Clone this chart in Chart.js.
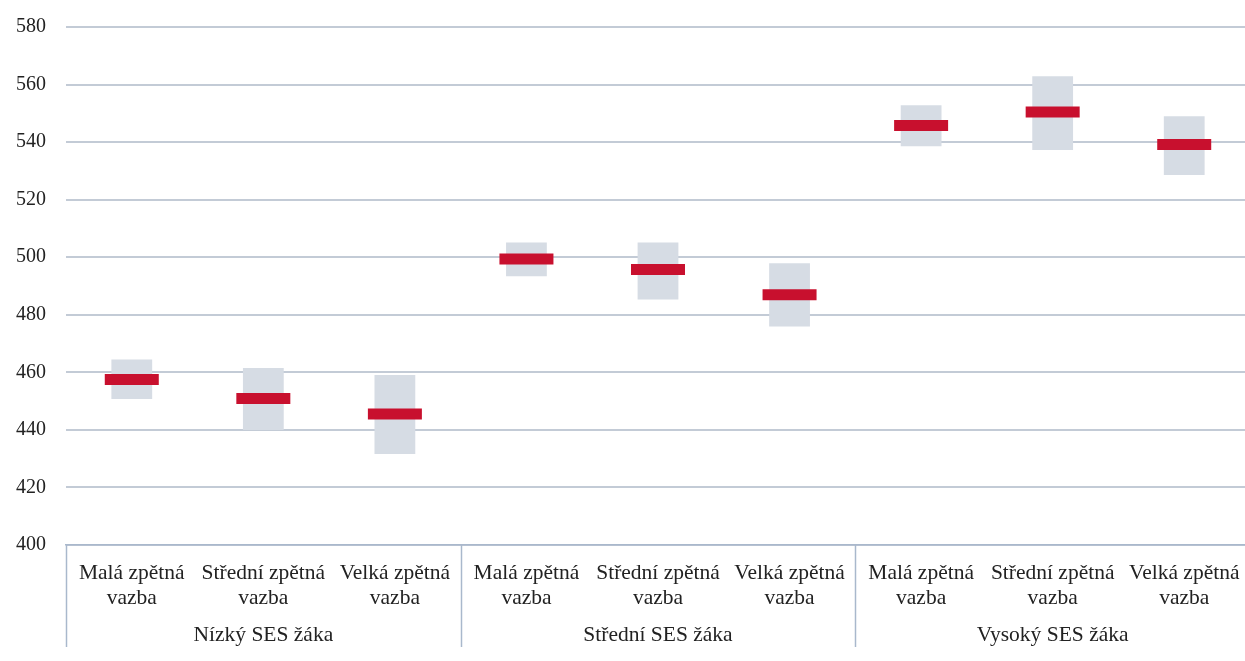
<!DOCTYPE html>
<html>
<head>
<meta charset="utf-8">
<script src="https://cdn.jsdelivr.net/npm/chart.js@4/dist/chart.umd.min.js"></script>
<style>
  html, body { margin: 0; padding: 0; background: #fff; overflow: hidden; }
  canvas { display: block; }
</style>
</head>
<body>
<canvas id="chart" width="1252" height="661"></canvas>
<script>
// categories (feedback level) and groups (student SES)
const feedback = [
    ['Malá zpětná', 'vazba'], ['Střední zpětná', 'vazba'], ['Velká zpětná', 'vazba'],
    ['Malá zpětná', 'vazba'], ['Střední zpětná', 'vazba'], ['Velká zpětná', 'vazba'],
    ['Malá zpětná', 'vazba'], ['Střední zpětná', 'vazba'], ['Velká zpětná', 'vazba']
];
const groups = ['Nízký SES žáka', 'Střední SES žáka', 'Vysoký SES žáka'];

// estimated values
const means = [457.5, 450.9, 445.5, 499.4, 495.7, 487.0, 545.8, 550.5, 539.2];
const lower = [450.7, 440.0, 431.6, 493.4, 485.3, 475.9, 538.6, 537.3, 528.6];
const upper = [464.5, 461.5, 459.1, 505.1, 505.1, 497.9, 552.8, 562.9, 549.0];

const yTicks = [400, 420, 440, 460, 480, 500, 520, 540, 560, 580];

const axisColor = '#A9B8CC';
const gridColor = '#C3CBD6';
const serifFamily = '"Liberation Serif", "Times New Roman", serif';

// vertical separators between the SES groups, from the axis line down
const groupLines = {
    id: 'groupLines',
    afterDraw(chart) {
        const x = chart.scales.x;
        const x2 = chart.scales.x2;
        const step = (x.right - x.left) / feedback.length;
        const ctx = chart.ctx;
        ctx.save();
        ctx.strokeStyle = axisColor;
        ctx.lineWidth = 1.5;
        for (let i = 0; i <= feedback.length; i += 3) {
            const px = Math.round(x.getPixelForValue(i) - step / 2) + 0.5;
            ctx.beginPath();
            ctx.moveTo(px, x.top);
            ctx.lineTo(px, x2.bottom);
            ctx.stroke();
        }
        ctx.restore();
    }
};

new Chart(document.getElementById('chart'), {
    data: {
        labels: feedback,
        datasets: [
            {
                type: 'line',
                label: 'Průměr',
                data: means,
                showLine: false,
                pointStyle: 'line',
                pointRadius: 27,
                pointHoverRadius: 27,
                pointBorderWidth: 11,
                pointHoverBorderWidth: 11,
                borderColor: '#C8102E',
                backgroundColor: '#C8102E',
                order: 1
            },
            {
                type: 'bar',
                label: 'Interval',
                data: lower.map((lo, i) => [lo, upper[i]]),
                backgroundColor: '#D6DCE4',
                borderWidth: 0,
                categoryPercentage: 1,
                barPercentage: 0.31,
                order: 2
            }
        ]
    },
    options: {
        responsive: false,
        animation: false,
        events: [],
        layout: { autoPadding: false, padding: { top: 27, left: 12, right: 2, bottom: 14 } },
        plugins: {
            legend: { display: false },
            tooltip: { enabled: false }
        },
        scales: {
            x: {
                type: 'category',
                offset: true,
                grid: { display: false },
                border: { display: true, color: axisColor, width: 1.5 },
                afterFit: (scale) => { scale.height = 64; },
                ticks: {
                    color: '#222',
                    font: { family: serifFamily, size: 21.5, lineHeight: 1.16 },
                    padding: 8,
                    maxRotation: 0,
                    autoSkip: false
                }
            },
            x2: {
                type: 'category',
                position: 'bottom',
                labels: groups,
                offset: true,
                grid: { display: false },
                border: { display: false },
                afterFit: (scale) => { scale.height = 38; },
                ticks: {
                    color: '#222',
                    font: { family: serifFamily, size: 21.5, lineHeight: 1.16 },
                    padding: 6,
                    maxRotation: 0,
                    autoSkip: false
                }
            },
            y: {
                min: yTicks[0],
                max: yTicks[yTicks.length - 1],
                afterBuildTicks: (scale) => { scale.ticks = yTicks.map(v => ({ value: v })); },
                afterFit: (scale) => {
                    scale.width = 54;
                    scale.paddingTop = 0;
                    scale.paddingBottom = 0;
                },
                border: { display: false },
                grid: { color: gridColor, lineWidth: 2, drawTicks: false },
                ticks: {
                    color: '#222',
                    font: { family: serifFamily, size: 20 },
                    padding: 20
                }
            }
        }
    },
    plugins: [groupLines]
});
</script>
</body>
</html>
